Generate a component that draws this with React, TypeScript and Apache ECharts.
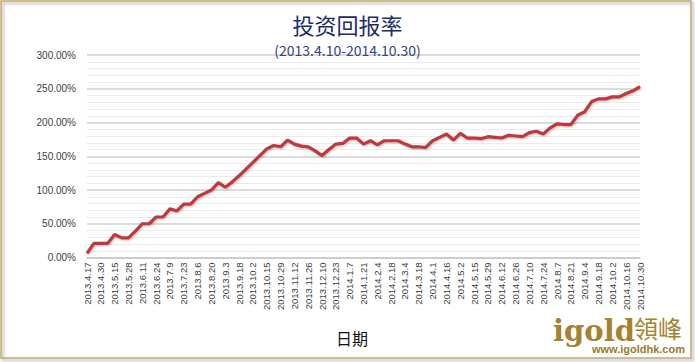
import React, { useEffect, useRef } from "react";
import * as echarts from "echarts";

const titleText = "投资回报率";
const subtitleText = "(2013.4.10-2014.10.30)";
const xAxisTitle = "日期";

// Labels shown on the x axis (every other weekly data point)
const shownDates = [
  "2013.4.17", "2013.4.30", "2013.5.15", "2013.5.28", "2013.6.11", "2013.6.24",
  "2013.7.9", "2013.7.23", "2013.8.6", "2013.8.20", "2013.9.3", "2013.9.18",
  "2013.10.2", "2013.10.15", "2013.10.29", "2013.11.12", "2013.11.26", "2013.12.10",
  "2013.12.23", "2014.1.7", "2014.1.21", "2014.2.4", "2014.2.18", "2014.3.4",
  "2014.3.18", "2014.4.1", "2014.4.16", "2014.5.2", "2014.5.15", "2014.5.29",
  "2014.6.12", "2014.6.26", "2014.7.10", "2014.7.24", "2014.8.7", "2014.8.21",
  "2014.9.4", "2014.9.18", "2014.10.2", "2014.10.16", "2014.10.30",
];

// Return (%), one value per weekly point
const returnPct = [
  6, 21, 21, 21, 34, 29, 29, 39, 50, 50,
  60, 60, 72, 69, 79, 79, 90, 95, 100, 111,
  104, 112, 121, 131, 141, 151, 161, 166, 164, 174,
  168, 165, 164, 158, 151, 160, 168, 169, 177, 177,
  168, 173, 167, 173, 173, 173, 168, 164, 164, 163,
  173, 178, 183, 174, 184, 177, 177, 176, 179, 178,
  177, 181, 180, 179, 185, 187, 183, 192, 198, 197,
  197, 211, 216, 231, 235, 235, 238, 238, 243, 247,
  253,
];

const yTicks = [0, 50, 100, 150, 200, 250, 300];

export default function App() {
  const ref = useRef<HTMLDivElement>(null);

  useEffect(() => {
    if (!ref.current) return;
    const chart = echarts.init(ref.current, undefined, { renderer: "svg" });

    const categories: string[] = [];
    shownDates.forEach((d, i) => {
      categories.push(d);
      if (i < shownDates.length - 1) categories.push("");
    });

    const gold = "#a5822f";

    chart.setOption({
      animation: false,
      backgroundColor: "#ffffff",
      title: [
        {
          text: titleText,
          left: "center",
          top: 8,
          textStyle: {
            fontFamily: "Noto Sans CJK SC",
            fontSize: 22,
            fontWeight: "normal",
            color: "#1e2c6b",
          },
        },
        {
          text: subtitleText,
          left: "center",
          top: 38,
          textStyle: {
            fontFamily: "Noto Sans CJK SC",
            fontSize: 14,
            fontWeight: "normal",
            color: "#33428a",
          },
        },
      ],
      grid: { left: 87, right: 55, top: 55, bottom: 104.5, containLabel: false },
      xAxis: {
        type: "category",
        data: categories,
        boundaryGap: false,
        axisLine: { show: true, lineStyle: { color: "#c8c8c8", width: 1.5 } },
        axisTick: { show: false },
        axisLabel: {
          interval: 1,
          rotate: 90,
          margin: 5,
          fontFamily: "Liberation Sans",
          fontSize: 9.5,
          color: "#404040",
        },
        splitLine: { show: false },
      },
      yAxis: {
        type: "value",
        min: yTicks[0],
        max: yTicks[yTicks.length - 1],
        interval: 50,
        axisLine: { show: false },
        axisTick: { show: false },
        axisLabel: {
          margin: 11,
          fontFamily: "Liberation Sans",
          fontSize: 10,
          color: "#404040",
          formatter: (v: number) => v.toFixed(2) + "%",
        },
        splitLine: { show: true, lineStyle: { color: "#cfcfcf", width: 1.5 } },
        minorTick: { show: false, splitNumber: 5 },
        minorSplitLine: { show: true, lineStyle: { color: "#ebebeb", width: 1 } },
      },
      series: [
        {
          type: "line",
          data: returnPct,
          symbol: "none",
          lineStyle: {
            color: "#c0383a",
            width: 3.2,
            shadowColor: "rgba(0,0,0,0.25)",
            shadowBlur: 2,
            shadowOffsetX: 1,
            shadowOffsetY: 1,
          },
          itemStyle: { color: "#c0383a" },
        },
      ],
      graphic: [
        {
          type: "rect",
          z: -10,
          silent: true,
          shape: { x: 1, y: 1, width: 690, height: 357 },
          style: {
            fill: "rgba(255,255,255,0)",
            stroke: "#c9a76c",
            lineWidth: 1.5,
            shadowColor: "rgba(0,0,0,0.35)",
            shadowBlur: 3,
            shadowOffsetX: 2,
            shadowOffsetY: 2,
          },
        },
        {
          type: "text",
          x: 352,
          y: 338,
          style: {
            text: xAxisTitle,
            fill: "#111111",
            font: "16px 'Noto Sans CJK SC'",
            textAlign: "center",
            textVerticalAlign: "middle",
            align: "center",
            verticalAlign: "middle",
          },
        },
        {
          type: "text",
          x: 553,
          y: 331,
          style: {
            text: "igold",
            fill: gold,
            font: "bold 29px 'DejaVu Serif'",
            textAlign: "left",
            textVerticalAlign: "middle",
            align: "left",
            verticalAlign: "middle",
          },
        },
        {
          type: "text",
          x: 634,
          y: 327,
          style: {
            text: "領峰",
            fill: gold,
            font: "24px 'Noto Sans CJK TC'",
            textAlign: "left",
            textVerticalAlign: "middle",
            align: "left",
            verticalAlign: "middle",
          },
        },
        {
          type: "text",
          x: 685,
          y: 349,
          style: {
            text: "www.igoldhk.com",
            fill: "#9a7a2c",
            font: "bold 11px 'Liberation Sans'",
            textAlign: "right",
            textVerticalAlign: "middle",
            align: "right",
            verticalAlign: "middle",
          },
        },
      ],
    });

    return () => chart.dispose();
  }, []);

  return (
    <div
      ref={ref}
      style={{ position: "fixed", left: 0, top: 0, width: 695, height: 362 }}
    />
  );
}
